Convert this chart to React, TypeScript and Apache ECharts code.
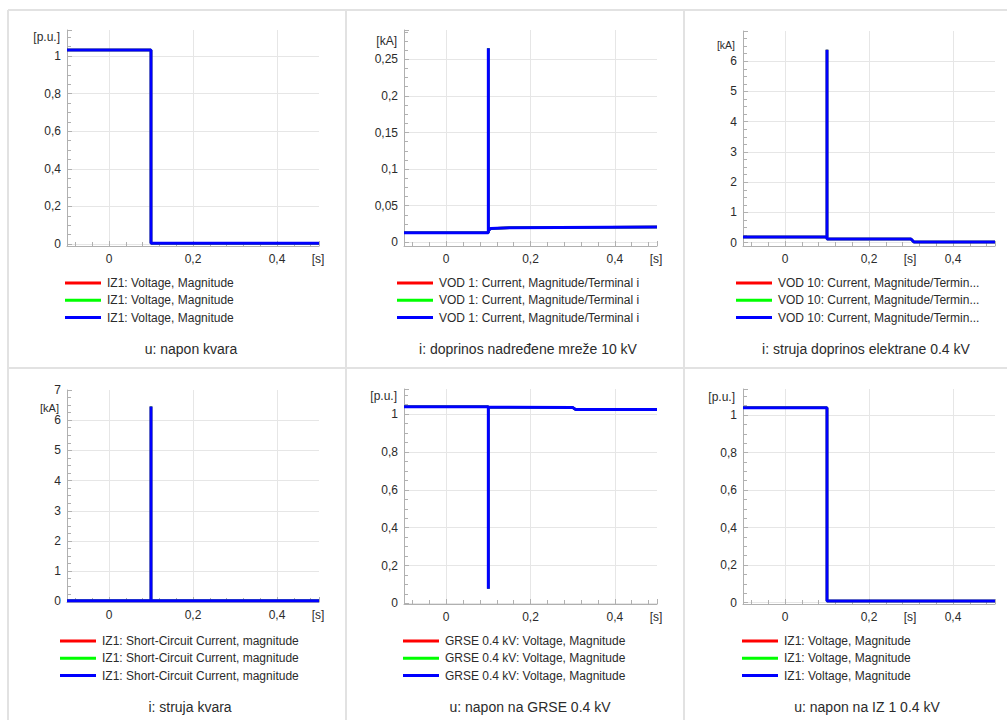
import React, { useEffect, useRef } from "react";
import * as echarts from "echarts";

// ---- data (time in s, values) ----
const p1Time = [-0.1, 0.1, 0.1, 0.5];
const p1Value = [1.032, 1.032, 0.005, 0.005];

const p2Time = [-0.1, 0.1, 0.1, 0.1, 0.106, 0.15, 0.5];
const p2Value = [0.013, 0.013, 0.265, 0.016, 0.019, 0.02, 0.021];

const p3Time = [-0.1, 0.1, 0.1, 0.1, 0.3, 0.307, 0.5];
const p3Value = [0.19, 0.19, 6.38, 0.12, 0.12, 0.02, 0.02];

const p4Time = [-0.1, 0.1, 0.1, 0.1, 0.5];
const p4Value = [0.02, 0.02, 6.45, 0.02, 0.02];

const p5Time = [-0.1, 0.1, 0.1, 0.1, 0.3, 0.307, 0.5];
const p5Value = [1.039, 1.039, 0.077, 1.037, 1.035, 1.025, 1.025];

const p6Time = [-0.1, 0.1, 0.1, 0.5];
const p6Value = [1.039, 1.039, 0.008, 0.008];

const legendLabels = [
  "IZ1: Voltage, Magnitude",
  "VOD 1: Current, Magnitude/Terminal i",
  "VOD 10: Current, Magnitude/Termin...",
  "IZ1: Short-Circuit Current, magnitude",
  "GRSE 0.4 kV: Voltage, Magnitude",
  "IZ1: Voltage, Magnitude",
];
const titles = [
  "u: napon kvara",
  "i: doprinos nadređene mreže 10 kV",
  "i: struja doprinos elektrane 0.4 kV",
  "i: struja kvara",
  "u: napon na GRSE 0.4 kV",
  "u: napon na IZ 1 0.4 kV",
];
const yUnits = ["[p.u.]", "[kA]", "[kA]", "[kA]", "[p.u.]", "[p.u.]"];
const xUnit = "[s]";
const xRange = [-0.1, 0.5];
const yRanges = [
  [-0.01, 1.138],
  [-0.005, 0.29],
  [-0.11, 7],
  [-0.02, 7],
  [-0.003, 1.133],
  [-0.008, 1.139],
];
const seriesTimes = [p1Time, p2Time, p3Time, p4Time, p5Time, p6Time];
const seriesValues = [p1Value, p2Value, p3Value, p4Value, p5Value, p6Value];
const traceColors = ["#ff0000", "#00ff00", "#0000ff"];

// ---- layout / style ----
const FONT = '"Liberation Sans", Arial, Helvetica, sans-serif';
const layout = [
  { left: 67, top: 30, width: 252, height: 216, ySplit: 6, nameGap: -7, namePad: 7, nameSize: 12, xNameGap: -1, lgLeft: 65, lgTop: 276, tX: 191, tY: 349, showMax: false },
  { left: 404, top: 30, width: 253, height: 216, ySplit: 6, nameGap: -11, namePad: 7, nameSize: 12, xNameGap: -1, lgLeft: 397, lgTop: 276, tX: 528, tY: 349, showMax: false },
  { left: 743, top: 31, width: 252, height: 215, ySplit: 7, nameGap: -14, namePad: 8, nameSize: 10.5, xNameGap: -85, lgLeft: 736, lgTop: 276, tX: 866, tY: 349, showMax: false },
  { left: 67, top: 390, width: 252, height: 212, ySplit: 7, nameGap: -18, namePad: 8, nameSize: 11, xNameGap: -1, lgLeft: 60, lgTop: 634, tX: 190, tY: 707, showMax: true },
  { left: 404, top: 389, width: 253, height: 215, ySplit: 6, nameGap: -7, namePad: 7, nameSize: 12, xNameGap: -1, lgLeft: 403, lgTop: 634, tX: 530, tY: 707, showMax: false },
  { left: 743, top: 389, width: 252, height: 215, ySplit: 6, nameGap: -8, namePad: 8, nameSize: 12, xNameGap: -85, lgLeft: 742, lgTop: 634, tX: 867, tY: 707, showMax: false },
];

const fmt = (v: number) => String(Math.round(v * 1000) / 1000).replace(".", ",");
const TEXT = "#2b2b2b";
const AXIS = "#b0b0b0";
const GRID = "#e6e6e6";

function buildOption() {
  const grid: any[] = [];
  const xAxis: any[] = [];
  const yAxis: any[] = [];
  const series: any[] = [];
  const legend: any[] = [];
  const title: any[] = [];

  layout.forEach((L, i) => {
    grid.push({ left: L.left, top: L.top, width: L.width, height: L.height, containLabel: false, outerBoundsMode: "none" });
    xAxis.push({
      type: "value",
      gridIndex: i,
      min: xRange[0],
      max: xRange[1],
      splitNumber: 3,
      name: xUnit,
      nameLocation: "end",
      nameGap: L.xNameGap,
      nameMoveOverlap: false,
      nameTextStyle: { color: TEXT, fontSize: 12, fontFamily: FONT, align: "center", verticalAlign: "top", padding: [7, 0, 0, 0] },
      axisLine: { show: true, onZero: false, lineStyle: { color: AXIS, width: 1 } },
      axisTick: { show: true, inside: true, length: 5, lineStyle: { color: AXIS } },
      minorTick: { show: true, splitNumber: 5, length: 4, lineStyle: { color: AXIS } },
      splitLine: { show: true, showMaxLine: false, lineStyle: { color: GRID, width: 1 } },
      axisLabel: { color: TEXT, fontSize: 12, fontFamily: FONT, margin: 7, showMinLabel: false, showMaxLabel: false, formatter: fmt },
    });
    yAxis.push({
      type: "value",
      gridIndex: i,
      min: yRanges[i][0],
      max: yRanges[i][1],
      splitNumber: L.ySplit,
      name: yUnits[i],
      nameLocation: "end",
      nameGap: L.nameGap,
      nameMoveOverlap: false,
      nameTextStyle: { color: TEXT, fontSize: L.nameSize, fontFamily: FONT, align: "right", verticalAlign: "middle", padding: [0, L.namePad, 0, 0] },
      axisLine: { show: true, onZero: false, lineStyle: { color: AXIS, width: 1 } },
      axisTick: { show: true, inside: true, length: 5, lineStyle: { color: AXIS } },
      minorTick: { show: true, splitNumber: 4, length: 4, lineStyle: { color: AXIS } },
      splitLine: { show: true, showMaxLine: false, lineStyle: { color: GRID, width: 1 } },
      axisLabel: { color: TEXT, fontSize: 12, fontFamily: FONT, margin: 6, showMinLabel: false, showMaxLabel: L.showMax, formatter: fmt },
    });
    const names: string[] = [];
    traceColors.forEach((c, k) => {
      const name = `${legendLabels[i]}|${i}-${k}`;
      names.push(name);
      series.push({
        type: "line",
        name,
        xAxisIndex: i,
        yAxisIndex: i,
        showSymbol: false,
        symbol: "none",
        color: c,
        lineStyle: { color: c, width: k === 2 ? 3 : 2.5 },
        itemStyle: { color: c },
        z: 2 + k,
        data: seriesTimes[i].map((t, j) => [t, seriesValues[i][j]]),
      });
    });
    legend.push({
      orient: "vertical",
      left: L.lgLeft,
      top: L.lgTop,
      data: names,
      icon: "rect",
      itemWidth: 36,
      itemHeight: 3,
      itemGap: 3.3,
      selectedMode: false,
      padding: 0,
      formatter: (n: string) => n.split("|")[0],
      textStyle: { color: TEXT, fontSize: 12, fontFamily: FONT, lineHeight: 14, padding: [0, 0, 0, 1] },
    });
    title.push({
      text: titles[i],
      left: L.tX,
      top: L.tY - 7,
      textAlign: "center",
      padding: 0,
      textStyle: { color: TEXT, fontSize: 14, fontWeight: "normal", fontFamily: FONT },
    });
  });

  const border = { stroke: "#e2e2e2", lineWidth: 2 };
  const graphic = [
    { type: "line", shape: { x1: 8, y1: 10, x2: 1007, y2: 10 }, style: border, silent: true },
    { type: "line", shape: { x1: 8, y1: 368, x2: 1007, y2: 368 }, style: border, silent: true },
    { type: "line", shape: { x1: 8, y1: 10, x2: 8, y2: 720 }, style: border, silent: true },
    { type: "line", shape: { x1: 346, y1: 10, x2: 346, y2: 720 }, style: border, silent: true },
    { type: "line", shape: { x1: 684, y1: 10, x2: 684, y2: 720 }, style: border, silent: true },
  ];

  return {
    animation: false,
    backgroundColor: "#ffffff",
    textStyle: { fontFamily: FONT },
    grid,
    xAxis,
    yAxis,
    series,
    legend,
    title,
    graphic,
  };
}

export default function App() {
  const ref = useRef<HTMLDivElement>(null);
  useEffect(() => {
    if (!ref.current) return;
    const chart = echarts.init(ref.current, undefined, { renderer: "svg" });
    chart.setOption(buildOption() as any);
    return () => chart.dispose();
  }, []);
  return (
    <div
      ref={ref}
      style={{ position: "fixed", left: 0, top: 0, width: 1007, height: 720, background: "#fff" }}
    />
  );
}
